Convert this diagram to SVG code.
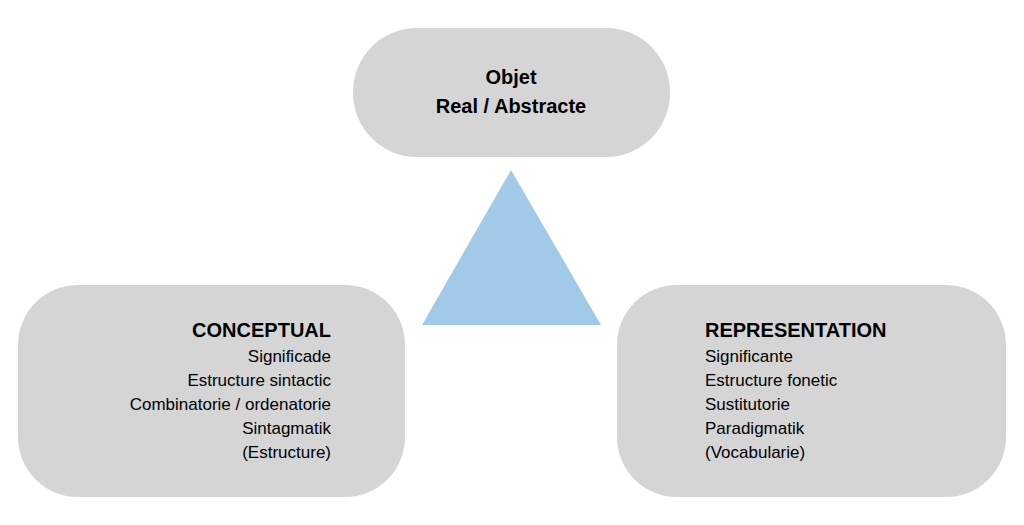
<svg xmlns="http://www.w3.org/2000/svg" width="1024" height="525" viewBox="0 0 1024 525">
<style>
.box{fill:#d5d5d5}
.t{font-family:"Liberation Sans",Arial,sans-serif;font-size:17px;fill:#000}
.b{font-weight:bold;font-size:20px}
</style>
<rect width="1024" height="525" fill="#fff"/>
<g id="objet"><rect class="box" x="353" y="28" width="317" height="129" rx="64"/>
<text class="t b" x="511" y="84" text-anchor="middle">Objet</text>
<text class="t b" x="511" y="113" text-anchor="middle">Real / Abstracte</text></g>
<g id="triangle"><polygon points="511,170 422,325 601,325" fill="#a1c9e8"/></g>
<g id="conceptual"><rect class="box" x="18" y="285" width="387" height="212" rx="60"/>
<g text-anchor="end">
<text class="t b" x="331" y="337">CONCEPTUAL</text>
<text class="t" x="331" y="362">Significade</text>
<text class="t" x="331" y="386">Estructure sintactic</text>
<text class="t" x="331" y="410">Combinatorie / ordenatorie</text>
<text class="t" x="331" y="434">Sintagmatik</text>
<text class="t" x="331" y="458">(Estructure)</text></g></g>
<g id="representation"><rect class="box" x="617" y="285" width="389" height="212" rx="60"/>
<text class="t b" x="705" y="337">REPRESENTATION</text>
<text class="t" x="705" y="362">Significante</text>
<text class="t" x="705" y="386">Estructure fonetic</text>
<text class="t" x="705" y="410">Sustitutorie</text>
<text class="t" x="705" y="434">Paradigmatik</text>
<text class="t" x="705" y="458">(Vocabularie)</text></g>
<g id="connectors"/>
</svg>
